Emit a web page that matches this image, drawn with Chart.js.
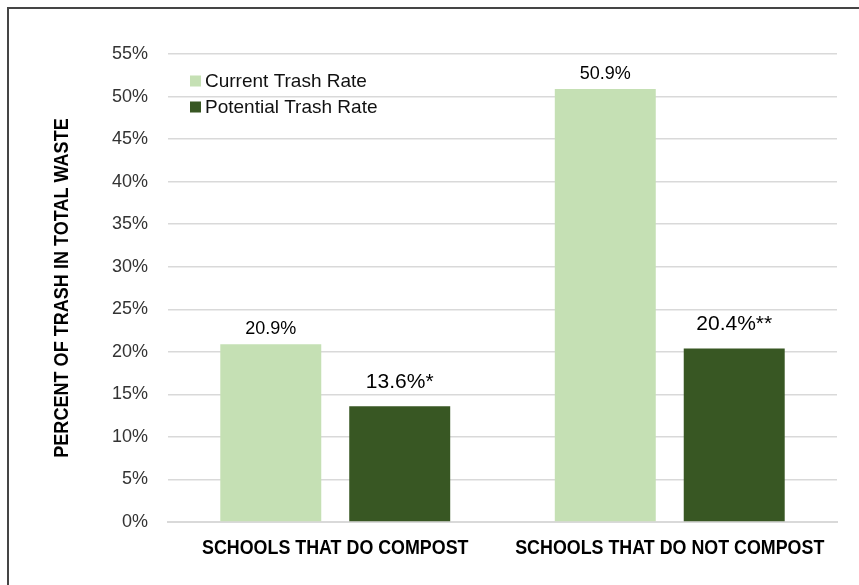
<!DOCTYPE html>
<html>
<head>
<meta charset="utf-8">
<script src="https://cdn.jsdelivr.net/npm/chart.js@4/dist/chart.umd.min.js"></script>
<style>
  html, body { margin: 0; padding: 0; background: #fff; }
  #wrap { position: relative; width: 859px; height: 585px; overflow: hidden; }
  #frame { position: absolute; left: 7px; top: 7px; right: -10px; bottom: -10px;
           border-top: 2px solid #454545; border-left: 2px solid #454545; pointer-events: none; }
  canvas { position: absolute; left: 0; top: 0; }
</style>
</head>
<body>
<div id="wrap">
  <canvas id="c" width="859" height="585"></canvas>
  <div id="frame"></div>
</div>
<script>
// ---- data ----
const categories = ["SCHOOLS THAT DO COMPOST", "SCHOOLS THAT DO NOT COMPOST"];
const currentTrashRate = [20.9, 50.9];
const potentialTrashRate = [13.6, 20.4];
const currentNotes = ["", ""];
const potentialNotes = ["*", "**"];
const seriesNames = ["Current Trash Rate", "Potential Trash Rate"];
const yTickValues = [0, 5, 10, 15, 20, 25, 30, 35, 40, 45, 50, 55];
const yAxisTitle = "PERCENT OF TRASH IN TOTAL WASTE";

const LIGHT = "#C5E0B4";
const DARK = "#385723";
const SANS = "'Liberation Sans', Arial, sans-serif";
const LABEL_GAP = [10, 18];    // px between bar top and label baseline, per series
const LABEL_SIZE = [18, 21];   // label font size per series

const valueLabels = {
  id: "valueLabels",
  afterDatasetsDraw(chart) {
    const ctx = chart.ctx;
    ctx.save();
    ctx.fillStyle = "#000";
    ctx.textAlign = "center";
    ctx.textBaseline = "alphabetic";
    chart.data.datasets.forEach((ds, di) => {
      ctx.font = LABEL_SIZE[di] + "px " + SANS;
      const meta = chart.getDatasetMeta(di);
      meta.data.forEach((bar, i) => {
        const txt = ds.data[i].toFixed(1) + "%" + ds.notes[i];
        ctx.fillText(txt, bar.x, bar.y - LABEL_GAP[di]);
      });
    });
    ctx.restore();
  }
};

const innerLegend = {
  id: "innerLegend",
  afterDatasetsDraw(chart) {
    const ctx = chart.ctx;
    ctx.save();
    ctx.font = "19px " + SANS;
    ctx.textBaseline = "middle";
    ctx.textAlign = "left";
    const x0 = 190, ys = [81, 107], sz = 11;
    chart.data.datasets.forEach((ds, di) => {
      ctx.fillStyle = ds.backgroundColor;
      ctx.fillRect(x0, ys[di] - sz / 2, sz, sz);
      ctx.fillStyle = "#111";
      ctx.fillText(ds.label, x0 + 15, ys[di] + 1);
    });
    ctx.restore();
  }
};

// condensed bold text for category labels and axis title
const condensedText = {
  id: "condensedText",
  afterDraw(chart) {
    const ctx = chart.ctx;
    const xs = chart.scales.x, ys = chart.scales.y;
    ctx.save();
    ctx.fillStyle = "#000";
    ctx.textAlign = "center";
    ctx.textBaseline = "middle";
    ctx.font = "bold 21px " + SANS;
    chart.data.labels.forEach((lab, i) => {
      const x = xs.getPixelForValue(i);
      ctx.save();
      ctx.translate(x, xs.top + 26);
      ctx.scale(0.85, 1);
      ctx.fillText(lab, 0, 0);
      ctx.restore();
    });
    ctx.save();
    ctx.translate(62, (ys.top + ys.bottom) / 2);
    ctx.rotate(-Math.PI / 2);
    ctx.scale(0.86, 1);
    ctx.fillText(yAxisTitle, 0, 0);
    ctx.restore();
    ctx.restore();
  }
};

new Chart(document.getElementById("c"), {
  type: "bar",
  data: {
    labels: categories,
    datasets: [
      { label: seriesNames[0], data: currentTrashRate, notes: currentNotes, backgroundColor: LIGHT,
        categoryPercentage: 0.771, barPercentage: 0.783 },
      { label: seriesNames[1], data: potentialTrashRate, notes: potentialNotes, backgroundColor: DARK,
        categoryPercentage: 0.771, barPercentage: 0.783 }
    ]
  },
  options: {
    responsive: false,
    animation: false,
    devicePixelRatio: 1,
    layout: { padding: { top: 54, right: 22, left: 0, bottom: 0 } },
    plugins: { legend: { display: false }, tooltip: { enabled: false } },
    scales: {
      x: {
        grid: { display: false, drawTicks: false },
        border: { display: true, color: "#d9d9d9", width: 2 },
        ticks: { display: false },
        afterFit(s) { s.height = 63; }
      },
      y: {
        min: 0, max: 55,
        afterBuildTicks(s) { s.ticks = yTickValues.map(v => ({ value: v })); },
        grid: { color: "#d9d9d9", lineWidth: 1.5, drawTicks: false },
        border: { display: false },
        ticks: { padding: 20, color: "#333", font: { family: SANS, size: 18 }, callback: v => v + "%" },
        title: { display: false, text: yAxisTitle },
        afterFit(s) { s.width = 168; }
      }
    }
  },
  plugins: [valueLabels, innerLegend, condensedText]
});
</script>
</body>
</html>
